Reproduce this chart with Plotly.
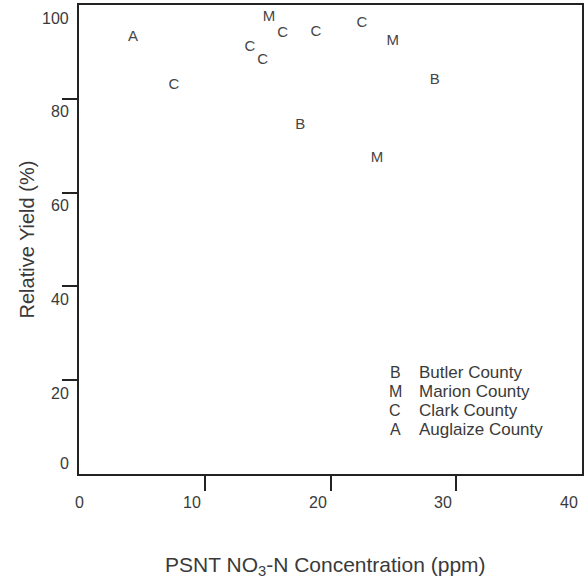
import plotly.graph_objects as go

# Data
butler_x = [17.6, 28.3]
butler_y = [74.4, 84.0]
marion_x = [15.1, 24.95, 23.7]
marion_y = [97.4, 92.3, 67.4]
clark_x = [7.55, 13.6, 14.6, 16.2, 18.85, 22.5]
clark_y = [82.9, 91.0, 88.3, 94.0, 94.2, 96.2]
auglaize_x = [4.3]
auglaize_y = [93.2]

series = [
    ("B", "Butler County", butler_x, butler_y),
    ("M", "Marion County", marion_x, marion_y),
    ("C", "Clark County", clark_x, clark_y),
    ("A", "Auglaize County", auglaize_x, auglaize_y),
]

x_ticks = [0, 10, 20, 30, 40]
y_ticks = [0, 20, 40, 60, 80, 100]

FONT = "Liberation Sans, Arial, sans-serif"
TXT = "#3a3a3a"
PLOT_W = 584 - 79 - 2
PLOT_H = 583 - 5 - 109

fig = go.Figure()
for letter, name, xs, ys in series:
    fig.add_trace(go.Scatter(
        x=xs, y=ys, mode="text", text=[letter] * len(xs), name=name,
        textposition="middle center",
        textfont=dict(family=FONT, size=15, color="#454545"),
        showlegend=False,
    ))

# Legend as text block
leg_rows_px = [372, 391, 410, 429]
for (letter, name, _, _), py in zip(series, leg_rows_px):
    yp = (474 - py) / PLOT_H
    fig.add_annotation(x=(395 - 79) / PLOT_W, y=yp, xref="paper", yref="paper",
                       text=letter, showarrow=False, xanchor="center", yanchor="middle",
                       font=dict(family=FONT, size=16, color=TXT))
    fig.add_annotation(x=(417 - 79) / PLOT_W, y=yp, xref="paper", yref="paper",
                       text=name, showarrow=False, xanchor="left", yanchor="middle",
                       font=dict(family=FONT, size=17, color=TXT))

# Tick labels (slightly offset from the tick marks, as in the scanned original)
for v in x_ticks:
    fig.add_annotation(x=v, y=0, xref="x", yref="paper", text=str(v), showarrow=False,
                       xanchor="center", yanchor="middle", yshift=-28,
                       xshift=(0 if v == 0 else -13),
                       font=dict(family=FONT, size=16, color=TXT))
for v in y_ticks:
    fig.add_annotation(x=0, y=v, xref="paper", yref="y", text=str(v), showarrow=False,
                       xanchor="right", yanchor="middle", xshift=-8,
                       yshift=(11 if v == 0 else -13),
                       font=dict(family=FONT, size=16, color=TXT))

# Axis titles
fig.add_annotation(x=0, y=0.5, xref="paper", yref="paper", xshift=-53,
                   text="Relative Yield (%)", textangle=-90, showarrow=False,
                   xanchor="center", yanchor="middle",
                   font=dict(family=FONT, size=20, color=TXT))
fig.add_annotation(x=(325 - 79) / PLOT_W, y=0, xref="paper", yref="paper", yshift=-92,
                   text="PSNT NO<sub>3</sub>-N Concentration (ppm)", showarrow=False,
                   xanchor="center", yanchor="middle",
                   font=dict(family=FONT, size=21, color=TXT))

axis_common = dict(
    showgrid=False, zeroline=False, showline=True, linecolor="#222222", linewidth=2,
    mirror=True, ticks="outside", ticklen=15, tickwidth=2, tickcolor="#222222",
    showticklabels=False, automargin=False,
)
fig.update_xaxes(range=[0, 40], tickvals=x_ticks[1:-1], **axis_common)
fig.update_yaxes(range=[0, 100], tickvals=y_ticks[1:-1], **axis_common)

fig.update_layout(
    width=584, height=583,
    margin=dict(l=79, r=2, t=5, b=109),
    paper_bgcolor="white", plot_bgcolor="white",
    showlegend=False,
)

fig.write_html("out.html", config={"displayModeBar": False},
               post_script="document.body.style.margin='0px';")
